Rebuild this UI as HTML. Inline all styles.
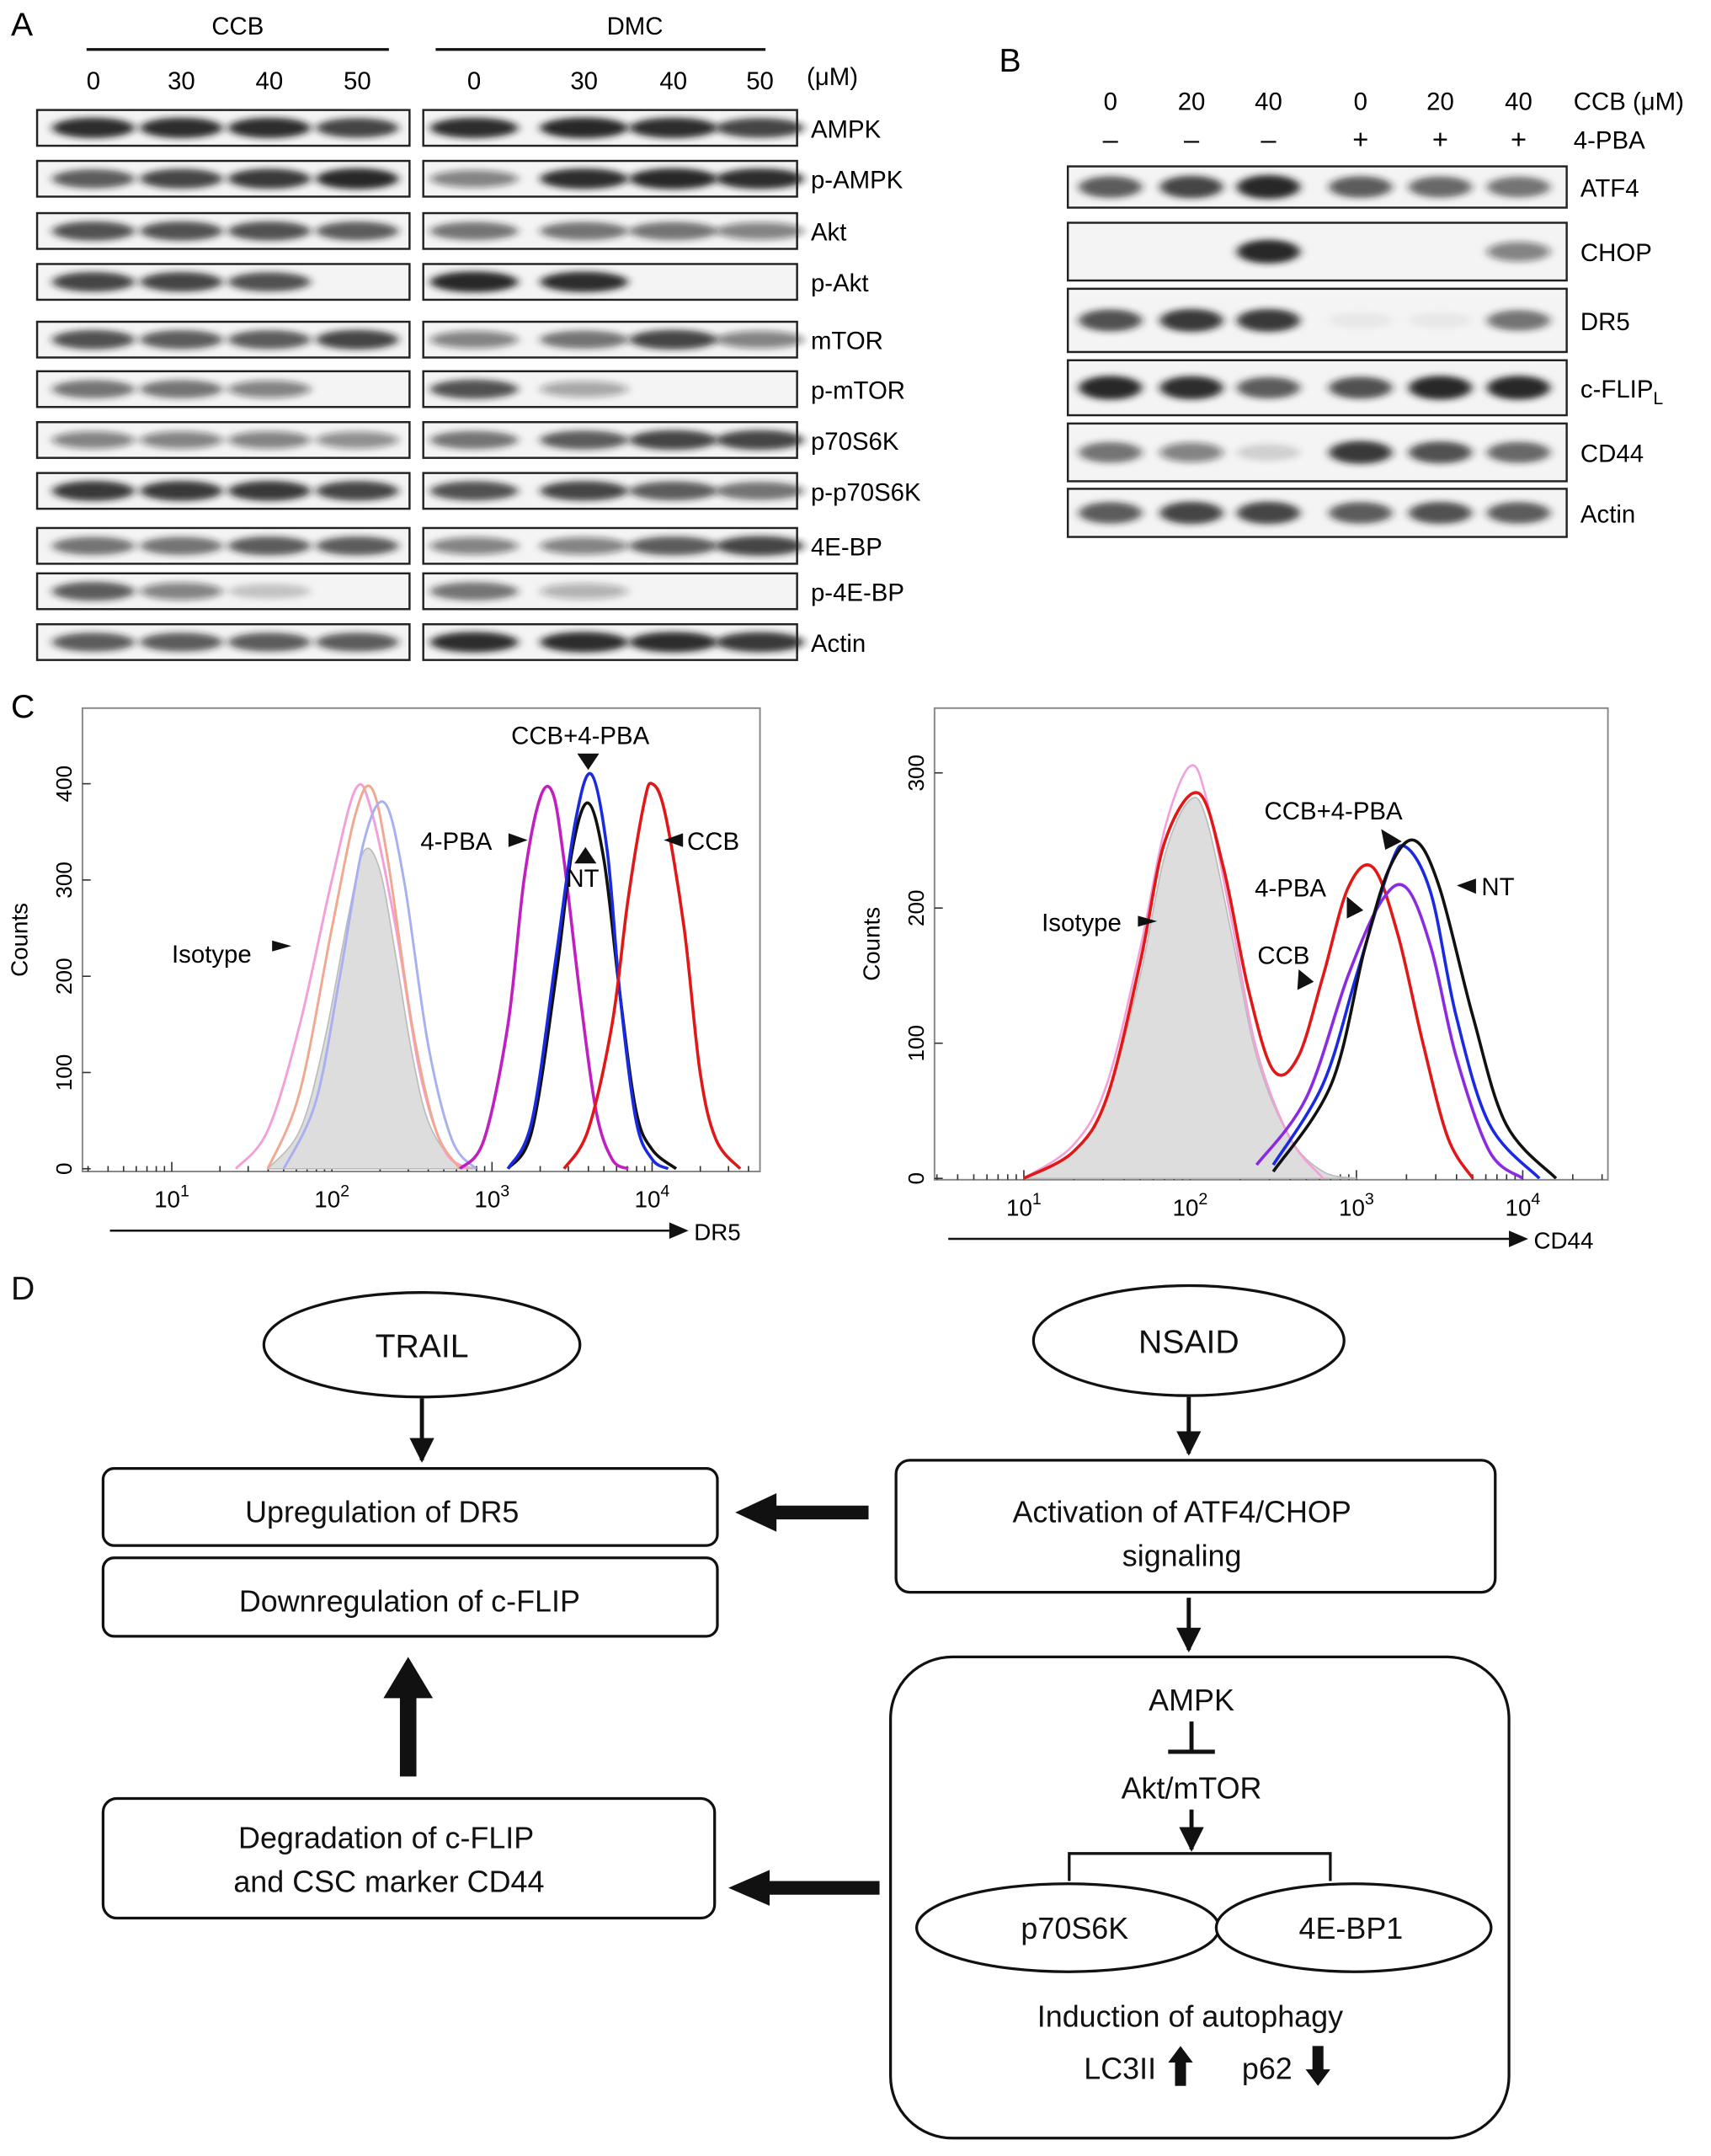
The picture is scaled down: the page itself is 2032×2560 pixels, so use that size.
<!DOCTYPE html>
<html><head><meta charset="utf-8">
<style>
html,body{margin:0;padding:0;background:#fff;}
svg{display:block;font-family:"Liberation Sans",Arial,sans-serif;}
</style></head>
<body>
<svg id="fig" width="2032" height="2560" viewBox="0 0 1245 1568" preserveAspectRatio="none" xmlns="http://www.w3.org/2000/svg">
<defs>
<filter id="blur" x="-30%" y="-100%" width="160%" height="300%"><feGaussianBlur stdDeviation="3.2 2.2"/></filter>
<marker id="ah" viewBox="0 0 10 10" refX="9" refY="5" markerWidth="6" markerHeight="6" orient="auto"><path d="M0,0L10,5L0,10z" fill="#111"/></marker>
</defs>
<rect width="1245" height="1568" fill="#fff"/>
<g id="panelA"></g>
<g id="panelB"></g>
<g id="panelC"></g>
<g id="panelD" font-size="22" fill="#111">
 <text x="8" y="945" font-size="24">D</text>
 <ellipse cx="307" cy="978" rx="115" ry="38" fill="#fff" stroke="#111" stroke-width="2"/>
 <text x="307" y="987" text-anchor="middle" font-size="24">TRAIL</text>
 <ellipse cx="865" cy="975" rx="113" ry="40" fill="#fff" stroke="#111" stroke-width="2"/>
 <text x="865" y="984" text-anchor="middle" font-size="24">NSAID</text>
 <line x1="307" y1="1017" x2="307" y2="1062" stroke="#111" stroke-width="3" marker-end="url(#ah)"/>
 <line x1="865" y1="1016" x2="865" y2="1057" stroke="#111" stroke-width="3" marker-end="url(#ah)"/>
 <rect x="75" y="1068" width="447" height="56" rx="8" fill="#fff" stroke="#111" stroke-width="2"/>
 <text x="278" y="1107" text-anchor="middle">Upregulation of DR5</text>
 <rect x="75" y="1133" width="447" height="57" rx="8" fill="#fff" stroke="#111" stroke-width="2"/>
 <text x="298" y="1172" text-anchor="middle">Downregulation of c-FLIP</text>
 <rect x="652" y="1062" width="436" height="96" rx="10" fill="#fff" stroke="#111" stroke-width="2"/>
 <text x="860" y="1107" text-anchor="middle">Activation of ATF4/CHOP</text>
 <text x="860" y="1139" text-anchor="middle">signaling</text>
 <polygon points="632,1095 565,1095 565,1086 535,1100 565,1114 565,1105 632,1105" fill="#111"/>
 <line x1="865" y1="1162" x2="865" y2="1200" stroke="#111" stroke-width="3" marker-end="url(#ah)"/>
 <rect x="648" y="1205" width="450" height="350" rx="45" fill="#fff" stroke="#111" stroke-width="2"/>
 <text x="867" y="1244" text-anchor="middle">AMPK</text>
 <line x1="867" y1="1252" x2="867" y2="1273" stroke="#111" stroke-width="3"/>
 <line x1="850" y1="1274" x2="884" y2="1274" stroke="#111" stroke-width="3"/>
 <text x="867" y="1308" text-anchor="middle">Akt/mTOR</text>
 <line x1="867" y1="1316" x2="867" y2="1345" stroke="#111" stroke-width="3" marker-end="url(#ah)"/>
 <polyline points="778,1368 778,1348 968,1348 968,1368" fill="none" stroke="#111" stroke-width="2"/>
 <ellipse cx="777" cy="1402" rx="110" ry="32" fill="#fff" stroke="#111" stroke-width="2"/>
 <text x="782" y="1410" text-anchor="middle">p70S6K</text>
 <ellipse cx="985" cy="1402" rx="100" ry="32" fill="#fff" stroke="#111" stroke-width="2"/>
 <text x="983" y="1410" text-anchor="middle">4E-BP1</text>
 <text x="866" y="1474" text-anchor="middle">Induction of autophagy</text>
 <text x="815" y="1512" text-anchor="middle">LC3II</text>
 <polygon points="855,1517 863,1517 863,1500 868,1500 859,1488 850,1500 855,1500" fill="#111"/>
 <text x="922" y="1512" text-anchor="middle">p62</text>
 <polygon points="955,1488 963,1488 963,1505 968,1505 959,1517 950,1505 955,1505" fill="#111"/>
 <rect x="75" y="1308" width="445" height="87" rx="10" fill="#fff" stroke="#111" stroke-width="2"/>
 <text x="281" y="1344" text-anchor="middle">Degradation of c-FLIP</text>
 <text x="283" y="1376" text-anchor="middle">and CSC marker CD44</text>
 <polygon points="291,1292 303,1292 303,1235 315,1235 297,1205 279,1235 291,1235" fill="#111"/>
 <polygon points="640,1368 560,1368 560,1360 530,1373 560,1386 560,1378 640,1378" fill="#111"/>
</g>
</svg>
<script>
const NS="http://www.w3.org/2000/svg";
function mk(tag,attrs,parent,txt){const e=document.createElementNS(NS,tag);for(const k in attrs)e.setAttribute(k,attrs[k]);if(txt!==undefined)e.textContent=txt;parent.appendChild(e);return e;}

/* ---------- Panel A data ---------- */
const aRows=["AMPK","p-AMPK","Akt","p-Akt","mTOR","p-mTOR","p70S6K","p-p70S6K","4E-BP","p-4E-BP","Actin"];
const aDoses=["0","30","40","50"];
const aCCB=[[.9,.9,.9,.8],[.7,.8,.85,.95],[.75,.75,.75,.7],[.8,.8,.75,0],[.75,.7,.7,.8],[.6,.6,.5,0],[.5,.5,.5,.45],[.85,.85,.85,.8],[.6,.6,.7,.7],[.7,.5,.2,0],[.7,.7,.7,.7]];
const aDMC=[[.9,.95,.9,.8],[.5,.9,.95,.9],[.6,.6,.6,.5],[.95,.9,0,0],[.5,.6,.8,.5],[.75,.35,0,0],[.6,.7,.8,.8],[.75,.8,.7,.6],[.5,.5,.7,.8],[.6,.3,0,0],[.9,.9,.9,.85]];
const aRowY=[93,130,168,205,247,283,320,357,397,430,467];
const aLaneL=[68,132,196,260], aLaneR=[345,425,490,553];

const A=document.getElementById('panelA');
mk('text',{x:8,y:26,'font-size':24,},A,'A');
mk('text',{x:173,y:25,'font-size':18,'text-anchor':'middle'},A,'CCB');
mk('text',{x:462,y:25,'font-size':18,'text-anchor':'middle'},A,'DMC');
mk('line',{x1:63,y1:36,x2:283,y2:36,stroke:'#111','stroke-width':2},A);
mk('line',{x1:317,y1:36,x2:557,y2:36,stroke:'#111','stroke-width':2},A);
aDoses.forEach((d,i)=>{mk('text',{x:aLaneL[i],y:65,'font-size':18,'text-anchor':'middle'},A,d);mk('text',{x:aLaneR[i],y:65,'font-size':18,'text-anchor':'middle'},A,d);});
mk('text',{x:587,y:62,'font-size':18},A,'(μM)');
function blotRow(g,x0,x1,y,h,lanes,vals,rx,ry){
  mk('rect',{x:x0,y:y-h/2,width:x1-x0,height:h,fill:'#f4f4f4',stroke:'#222','stroke-width':1.5},g);
  vals.forEach((v,i)=>{if(v<=0)return;
    const b=mk('ellipse',{cx:lanes[i],cy:y,rx:rx,ry:ry*(0.7+0.4*v),fill:'#1a1a1a','fill-opacity':v,filter:'url(#blur)'},g);
    
    
  });
}
aRows.forEach((r,k)=>{
  const g=mk('g',{},A);
  
  
  blotRow(g,27,298,aRowY[k],26,aLaneL,aCCB[k],30,7);
  blotRow(g,308,580,aRowY[k],26,aLaneR,aDMC[k],32,7);
  mk('text',{x:590,y:aRowY[k]+7,'font-size':18},g,r);
});

/* ---------- Panel B data ---------- */
const bRows=["ATF4","CHOP","DR5","c-FLIP","CD44","Actin"];
const bDoses=["0","20","40","0","20","40"];
const bPBA=["–","–","–","+","+","+"];
const bVals=[[.7,.8,.95,.7,.65,.6],[0,0,.95,0,0,.5],[.75,.85,.85,.05,.05,.6],[.95,.9,.7,.75,.95,.95],[.6,.5,.15,.85,.75,.65],[.7,.8,.8,.7,.75,.7]];
const bRowY=[136,183,233,282,329,373], bRowH=[30,42,46,40,42,35];
const bLanes=[808,867,923,990,1048,1105];
const B=document.getElementById('panelB');
mk('text',{x:727,y:52,'font-size':24,},B,'B');
bDoses.forEach((d,i)=>{mk('text',{x:bLanes[i],y:80,'font-size':18,'text-anchor':'middle'},B,d);mk('text',{x:bLanes[i],y:108,'font-size':20,'text-anchor':'middle'},B,bPBA[i]);});
mk('text',{x:1145,y:80,'font-size':18},B,'CCB (μM)');
mk('text',{x:1145,y:108,'font-size':18},B,'4-PBA');
bRows.forEach((r,k)=>{
  const g=mk('g',{},B);
  
  
  blotRow(g,777,1140,bRowY[k],bRowH[k],bLanes,bVals[k],23,8);
  const t=mk('text',{x:1150,y:bRowY[k]+7,'font-size':18},g,r);
  if(r==="c-FLIP"){mk('tspan',{'font-size':13,dy:5},t,'L');}
});

/* ---------- Panel C data ---------- */
// each series: [log10(fluorescence), counts]
const dr5Iso=[[1.6,0],[1.8,40],[1.95,130],[2.1,260],[2.2,330],[2.3,310],[2.4,220],[2.5,120],[2.6,50],[2.75,10],[2.9,0]];
const dr5IsoPink=[[1.4,0],[1.6,40],[1.8,150],[2.0,300],[2.15,395],[2.25,370],[2.4,250],[2.55,100],[2.7,20],[2.85,0]];
const dr5IsoOrange=[[1.6,0],[1.8,80],[2.0,250],[2.15,370],[2.25,395],[2.35,320],[2.5,150],[2.65,40],[2.8,0]];
const dr5IsoBlue=[[1.7,0],[1.9,70],[2.05,200],[2.2,340],[2.33,380],[2.45,300],[2.6,130],[2.75,30],[2.9,0]];
const dr5PBA=[[2.8,0],[2.95,30],[3.1,150],[3.2,300],[3.3,385],[3.38,390],[3.45,320],[3.55,180],[3.65,60],[3.75,10],[3.85,0]];
const dr5NT=[[3.1,0],[3.25,40],[3.4,200],[3.5,330],[3.6,380],[3.7,320],[3.8,180],[3.9,60],[4.0,20],[4.15,0]];
const dr5Combo=[[3.1,0],[3.25,50],[3.4,220],[3.52,360],[3.62,410],[3.72,330],[3.8,180],[3.9,50],[4.0,10],[4.1,0]];
const dr5CCB=[[3.45,0],[3.6,40],[3.75,150],[3.85,280],[3.95,380],[4.0,400],[4.08,370],[4.2,250],[4.3,100],[4.4,30],[4.55,0]];
const cd44Iso=[[1.0,0],[1.3,20],[1.5,60],[1.7,150],[1.85,240],[2.0,280],[2.1,265],[2.25,180],[2.4,90],[2.6,30],[2.8,5],[3.0,0]];
const cd44IsoPink=[[1.0,0],[1.3,25],[1.5,70],[1.7,170],[1.85,260],[2.0,305],[2.1,280],[2.25,190],[2.4,95],[2.6,30],[2.8,0]];
const cd44CCB=[[1.0,0],[1.3,20],[1.5,60],[1.7,160],[1.85,250],[2.05,285],[2.2,230],[2.35,140],[2.5,80],[2.65,90],[2.8,150],[2.95,215],[3.1,230],[3.25,180],[3.4,100],[3.55,30],[3.7,0]];
const cd44PBA=[[2.4,10],[2.7,60],[2.95,150],[3.15,205],[3.3,215],[3.45,170],[3.6,90],[3.8,20],[4.0,0]];
const cd44Combo=[[2.5,10],[2.8,70],[3.0,150],[3.2,230],[3.3,245],[3.45,210],[3.6,120],[3.8,40],[4.1,0]];
const cd44NT=[[2.5,5],[2.85,70],[3.05,170],[3.2,230],[3.35,250],[3.5,215],[3.7,120],[3.9,40],[4.2,0]];
const dr5YTicks=[0,100,200,300,400], cd44YTicks=[0,100,200,300];
const xTickExp=[1,2,3,4];

const C=document.getElementById('panelC');
mk('text',{x:8,y:522,'font-size':24,},C,'C');
function catmull(pts){let d='M'+pts[0][0]+','+pts[0][1];
  for(let i=0;i<pts.length-1;i++){const p0=pts[i-1]||pts[i],p1=pts[i],p2=pts[i+1],p3=pts[i+2]||p2;
    d+=' C'+(p1[0]+(p2[0]-p0[0])/6)+','+(p1[1]+(p2[1]-p0[1])/6)+' '+(p2[0]-(p3[0]-p1[0])/6)+','+(p2[1]-(p3[1]-p1[1])/6)+' '+p2[0]+','+p2[1];}
  return d;}
function histPlot(o){
  const g=mk('g',{},C);
  
  
  const sx=v=>o.x10+(v-1)*o.dec, sy=v=>o.y0-v*o.ky;
  mk('rect',{x:o.fx0,y:o.fy0,width:o.fx1-o.fx0,height:o.fy1-o.fy0,fill:'none',stroke:'#888','stroke-width':1.2},g);
  o.yticks.forEach(t=>{mk('line',{x1:o.fx0,y1:sy(t),x2:o.fx0+6,y2:sy(t),stroke:'#333'},g);
    const tx=mk('text',{x:o.fx0-8,y:sy(t),'font-size':16,'text-anchor':'middle',transform:`rotate(-90 ${o.fx0-8} ${sy(t)})`},g,String(t));});
  const yt=mk('text',{x:o.fx0-40,y:(o.fy0+o.fy1)/2,'font-size':17,'text-anchor':'middle',transform:`rotate(-90 ${o.fx0-40} ${(o.fy0+o.fy1)/2})`},g,'Counts');
  
  
  for(let e=0;e<5;e++){for(let m=1;m<10;m++){const v=e+Math.log10(m);const x=sx(v);if(x<o.fx0||x>o.fx1)continue;
    mk('line',{x1:x,y1:o.fy1,x2:x,y2:o.fy1-(m===1?7:4),stroke:'#333'},g);}}
  xTickExp.forEach(e=>{const t=mk('text',{x:sx(e),y:o.fy1+26,'font-size':17,'text-anchor':'middle'},g,'10');mk('tspan',{dy:-8,'font-size':12},t,String(e));});
  mk('line',{x1:o.ax0,y1:o.fy1+43,x2:o.ax1,y2:o.fy1+43,stroke:'#111','stroke-width':1.5},g);
  mk('polygon',{points:`${o.ax1},${o.fy1+37} ${o.ax1+14},${o.fy1+43} ${o.ax1},${o.fy1+49}`,fill:'#111'},g);
  mk('text',{x:o.ax1+18,y:o.fy1+50,'font-size':17},g,o.xlabel);
  o.series.forEach(s=>{const pts=s.d.map(p=>[sx(p[0]),sy(p[1])]);
    const p=mk('path',{d:catmull(pts)+(s.fill?' Z':''),fill:s.fill||'none',stroke:s.c,'stroke-width':s.w||2.2,'stroke-opacity':s.op||1},g);
    
    });
  o.labels.forEach(l=>{mk('text',{x:l[0],y:l[1],'font-size':18,'text-anchor':l[3]||'start'},g,l[2]);});
  o.arrows.forEach(a=>{mk('path',{d:a,fill:'#111'},g);});
}
histPlot({name:'dr5-histogram',fx0:60,fx1:553,fy0:515,fy1:852,x10:125,dec:116.5,y0:850,ky:0.70,yticks:dr5YTicks,ax0:80,ax1:487,xlabel:'DR5',
 series:[{d:dr5Iso,c:'#bbb',fill:'#ddd',w:1},{d:dr5IsoPink,c:'#f4a0d8',w:1.8},{d:dr5IsoOrange,c:'#f0a890',w:1.8},{d:dr5IsoBlue,c:'#a8b0f0',w:1.8},
  {d:dr5PBA,c:'#c020c0',n:'4pba-curve'},{d:dr5NT,c:'#111',n:'nt-curve'},{d:dr5Combo,c:'#1a2ae0',n:'ccb-4pba-curve'},{d:dr5CCB,c:'#e01818',n:'ccb-curve'}].map(s=>Object.assign({n:'isotype-curve'},s)),
 labels:[[125,700,'Isotype'],[306,618,'4-PBA'],[412,645,'NT'],[372,541,'CCB+4-PBA'],[500,618,'CCB']],
 arrows:['M198,692 L212,688 L198,684z','M370,606 L384,611 L370,616z','M418,628 L426,616 L434,628z','M420,548 L428,560 L436,548z','M497,606 L483,611 L497,616z']});
histPlot({name:'cd44-histogram',fx0:680,fx1:1170,fy0:515,fy1:858,x10:745,dec:121,y0:857,ky:0.983,yticks:cd44YTicks,ax0:690,ax1:1098,xlabel:'CD44',
 series:[{d:cd44Iso,c:'#bbb',fill:'#ddd',w:1},{d:cd44IsoPink,c:'#f4a0d8',w:1.6},{d:cd44CCB,c:'#e01818',n:'ccb-curve'},{d:cd44PBA,c:'#8a2be2',n:'4pba-curve'},{d:cd44Combo,c:'#1a2ae0',n:'ccb-4pba-curve'},{d:cd44NT,c:'#111',n:'nt-curve'}].map(s=>Object.assign({n:'isotype-curve'},s)),
 labels:[[758,677,'Isotype'],[913,652,'4-PBA'],[915,701,'CCB'],[920,596,'CCB+4-PBA'],[1078,651,'NT']],
 arrows:['M828,674 L842,670 L828,666z','M980,652 L992,662 L980,668z','M945,705 L956,714 L944,720z','M1005,603 L1020,612 L1008,618z','M1074,639 L1060,644 L1074,650z']});
</script>
</body></html>
